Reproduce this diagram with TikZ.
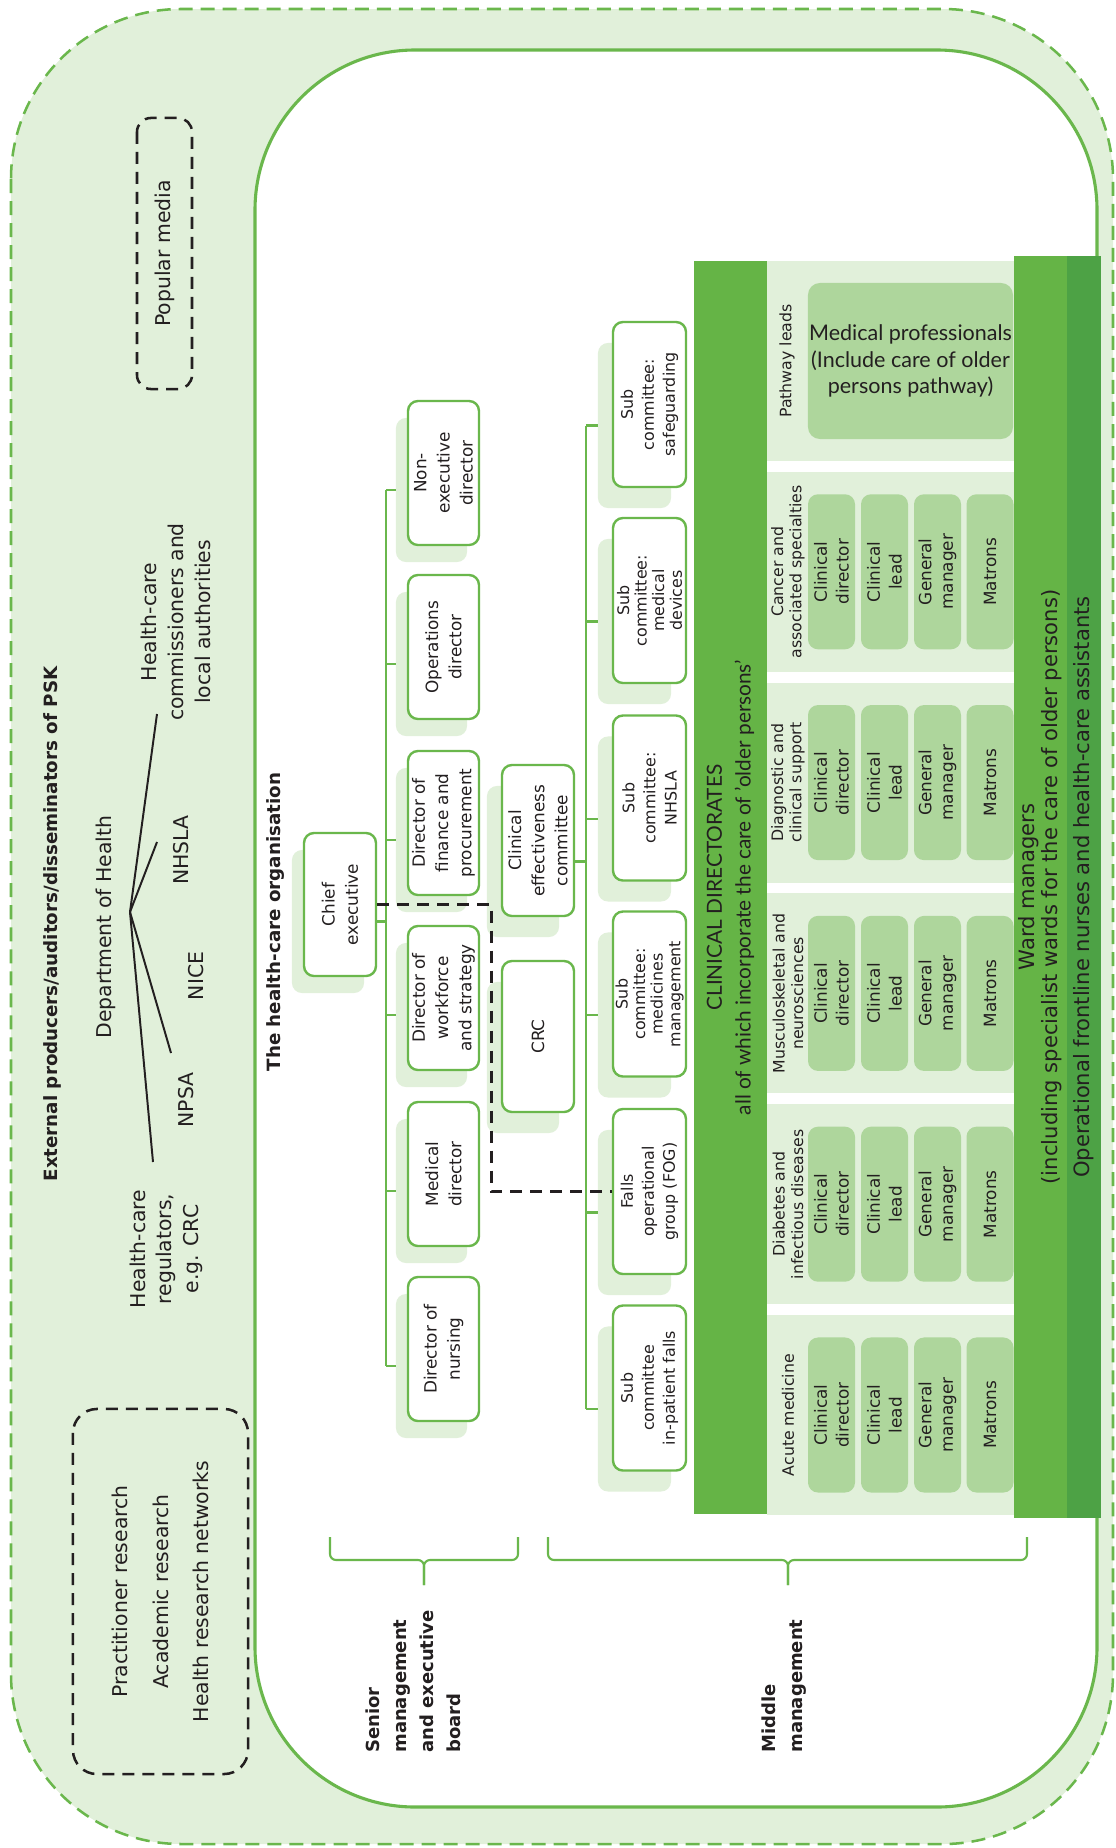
\documentclass[tikz,border=0pt]{standalone}
\usepackage{fontspec}
\setmainfont{DejaVu Sans}
\newfontfamily\latofont{Lato}
\usetikzlibrary{calc}

\definecolor{palegreen}{HTML}{E1F0DA}
\definecolor{linegreen}{HTML}{6AB74C}
\definecolor{bargreen}{HTML}{65B446}
\definecolor{bardark}{HTML}{4DA245}
\definecolor{cellgreen}{HTML}{AED69C}
\definecolor{inkgrey}{HTML}{231F20}

\tikzset{
  vtext/.style={rotate=90, align=center, text=inkgrey, inner sep=0pt},
  orgbox/.style={vtext, draw=linegreen, line width=1.7pt, fill=white, rounded corners=0.25cm, font=\fontsize{12}{16.5}\selectfont},
  shadowbox/.style={rotate=90, fill=palegreen, rounded corners=0.25cm, inner sep=0pt},
  seniorsize/.style={minimum width=3.6cm, minimum height=1.775cm},
  midsize/.style={minimum width=3.775cm, minimum height=1.8cm},
  subsize/.style={minimum width=4.125cm, minimum height=1.825cm},
  dircell/.style={vtext, fill=cellgreen, rounded corners=0.25cm, minimum width=3.875cm, minimum height=1.175cm, font=\fontsize{12}{15.4}\selectfont},
  hdr/.style={vtext, font=\fontsize{11.2}{13}\selectfont},
  extlabel/.style={vtext, font=\fontsize{14.5}{19.2}\selectfont},
  greenbar/.style={vtext, fill=bargreen},
  conn/.style={draw=linegreen, line width=1.7pt},
  blackline/.style={draw=inkgrey, line width=1.4pt},
  dashline/.style={draw=inkgrey, line width=2pt, dash pattern=on 0.3cm off 0.2cm},
  dashbox/.style={vtext, draw=inkgrey, line width=1.8pt, dash pattern=on 0.3cm off 0.2cm},
  brace/.style={draw=linegreen, line width=1.5pt, rounded corners=0.15cm},
}

\begin{document}
\begin{tikzpicture}[x=0.025cm, y=-0.025cm]
\useasboundingbox (0,0) rectangle (1116,1848);

% external field and the organisation
\draw[fill=palegreen, draw=linegreen, line width=1.8pt, dash pattern=on 0.35cm off 0.2cm, rounded corners=4.25cm] (11,9) rectangle (1113,1844);
\draw[fill=white, draw=linegreen, line width=2.2pt, rounded corners=4cm] (255,50) rectangle (1097,1807);

% external producers
\node[vtext, font=\bfseries\fontsize{13}{16}\selectfont] (title) at (52,924) {External producers/auditors/disseminators of PSK};
\node[extlabel] (doh) at (106,927) {Department of Health};
\node[extlabel] (comm) at (176,622) {Health-care\\commissioners and\\local authorities};
\node[extlabel] (ext-nhsla) at (181,850) {NHSLA};
\node[extlabel] (nice) at (196,976) {NICE};
\node[extlabel] (npsa) at (186,1100) {NPSA};
\node[extlabel, font=\fontsize{14.5}{18.8}\selectfont] (reg) at (166,1249) {Health-care\\regulators,\\e.g. CRC};
\coordinate (hub) at (130,912);
\coordinate (to-comm) at (157,714);
\coordinate (to-nhsla) at (157,842);
\coordinate (to-nice) at (171,1053);
\coordinate (to-reg) at (153,1162);
\foreach \e in {to-comm,to-nhsla,to-nice,to-reg}
  \draw[blackline] (hub) -- (\e);

\node[dashbox, minimum width=6.775cm, minimum height=1.375cm, rounded corners=0.35cm, font=\fontsize{14.5}{19}\selectfont] (media) at (164.5,253.5) {Popular media};
\node[dashbox, minimum width=9.125cm, minimum height=4.375cm, rounded corners=0.6cm, font=\fontsize{14.5}{29}\selectfont] (research) at (160.5,1591.5) {Practitioner research\\Academic research\\Health research networks};

\node[vtext, font=\bfseries\fontsize{13}{16}\selectfont] (orgtitle) at (276,922) {The health-care organisation};

% clinical directorates
\node[greenbar, minimum width=31.325cm, minimum height=1.825cm, font=\latofont\fontsize{14.8}{20.6}\selectfont] (cdbar) at (730.5,887.5) {CLINICAL DIRECTORATES\\all of which incorporate the care of ’older persons’};
\fill[palegreen] (767,261) rectangle (1014,461);
\node[hdr] (hdr-0) at (787,361) {Pathway leads};
\node[fill=cellgreen, rounded corners=0.3cm, minimum width=5.125cm, minimum height=3.9cm, align=center, text=inkgrey, inner sep=0pt, font=\latofont\fontsize{15.3}{19}\selectfont] (medprof) at (910.5,361) {Medical professionals\\(Include care of older\\persons pathway)};
\foreach \s/\txt in {1/{Cancer and\\associated specialties}, 2/{Diagnostic and\\clinical support}, 3/{Musculoskeletal and\\neurosciences}, 4/{Diabetes and\\infectious diseases}, 5/{Acute medicine}} {
  \pgfmathsetmacro{\yc}{361+210.8*\s}
  \fill[palegreen] (767,\yc-100) rectangle (1014,\yc+100);
  \node[hdr] (hdr-\s) at (788,\yc) {\txt};
  \node[dircell] (cd-\s) at (831.5,\yc) {Clinical\\director};
  \node[dircell] (cl-\s) at (884.5,\yc) {Clinical\\lead};
  \node[dircell] (gm-\s) at (937.5,\yc) {General\\manager};
  \node[dircell] (mt-\s) at (990,\yc) {Matrons};
}

% ward managers
\node[greenbar, minimum width=31.55cm, minimum height=1.325cm, font=\fontsize{15}{16.5}\selectfont] (ward) at (1040.5,887) {Ward managers\\(including specialist wards for the care of older persons)};
\node[greenbar, fill=bardark, minimum width=31.55cm, minimum height=0.85cm, font=\fontsize{15}{16.5}\selectfont] (frontline) at (1084,887) {Operational frontline nurses and health-care assistants};

% senior management
\node[shadowbox, minimum width=3.575cm, minimum height=1.8cm] (chief-s) at (328,921.5) {};
\node[orgbox, minimum width=3.575cm, minimum height=1.8cm] (chief) at (340,904.5) {Chief\\executive};
\foreach \n/\y/\txt in {nonexec/473/{Non-\\executive\\director}, ops/647/{Operations\\director}, finance/823/{Director of\\finance and\\procurement}, workforce/998/{Director of\\workforce\\and strategy}, meddir/1174/{Medical\\director}, nursing/1349/{Director of\\nursing}} {
  \node[shadowbox, seniorsize] (\n-s) at (431.5,\y+17) {};
  \node[orgbox, seniorsize] (\n) at (443.5,\y) {\txt};
}
\coordinate (sspine) at (386,0);
\draw[conn] (sspine |- nonexec-s.north) -- (sspine |- nursing-s.north);
\foreach \n in {nonexec,ops,finance,workforce,meddir,nursing}
  \draw[conn] (sspine |- \n-s.north) -- (\n-s.north);
\draw[conn] (chief.south |- chief-s) -- (sspine |- chief-s);

% committees
\foreach \n/\y/\txt in {ce/840.5/{Clinical\\effectiveness\\committee}, crc/1036.5/{CRC}} {
  \node[shadowbox, midsize] (\n-s) at (523,\y+21) {};
  \node[orgbox, midsize] (\n) at (538,\y) {\txt};
}
\foreach \n/\y/\lead/\txt in {safe/404.5/15/{Sub\\committee:\\safeguarding}, devices/600.5/12.5/{Sub\\committee:\\medical\\devices}, nhsla/798/15/{Sub\\committee:\\NHSLA}, medicines/994/12.5/{Sub\\committee:\\medicines\\management}, fog/1191.5/15/{Falls\\operational\\group (FOG)}, falls/1388/15/{Sub\\committee\\in-patient falls}} {
  \node[shadowbox, subsize] (\n-s) at (634.5,\y+21) {};
  \node[orgbox, subsize, font=\fontsize{11.3}{\lead}\selectfont] (\n) at (649.5,\y) {\txt};
}
\coordinate (mspine) at (586,0);
\draw[conn] (mspine |- safe-s.north) -- (mspine |- falls-s.north);
\foreach \n in {safe,devices,nhsla,medicines,fog,falls}
  \draw[conn] (mspine |- \n-s.north) -- (\n-s.north);
\draw[conn] (ce.south |- ce-s) -- (mspine |- ce-s);

% reporting line
\draw[dashline] (chief.south) -- ++(114,0) |- (fog.north);

% levels
\draw[brace] (330,1537) |- (424,1560) -- (424,1585);
\draw[brace] (518,1537) |- (424,1560) -- (424,1585);
\draw[brace] (548,1537) |- (788,1560) -- (788,1585);
\draw[brace] (1027,1537) |- (788,1560) -- (788,1585);
\node[vtext, anchor=west, align=left, font=\bfseries\fontsize{12.8}{19.2}\selectfont] (seniorlbl) at (413.5,1753) {Senior\\management\\and executive\\board};
\node[vtext, anchor=west, align=left, font=\bfseries\fontsize{12.8}{19.2}\selectfont] (middlelbl) at (784,1753) {Middle\\management};
\end{tikzpicture}
\end{document}
